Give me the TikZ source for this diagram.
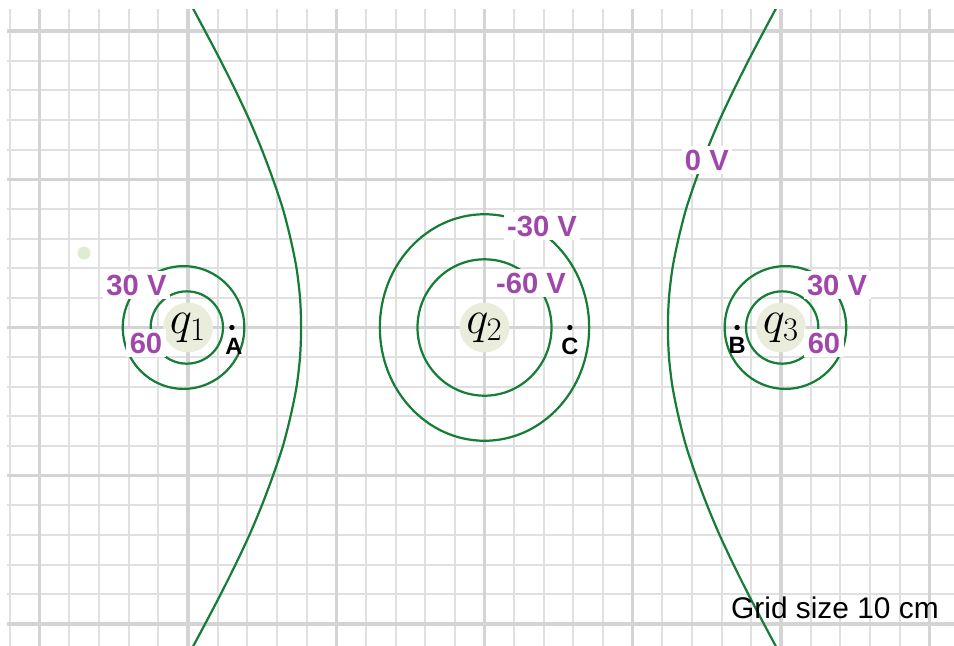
\documentclass[tikz,border=0pt]{standalone}
\usepackage{fix-cm}
\usepackage{fontspec}
\setmainfont{Liberation Sans}
\usepackage{tikz}
\pgfdeclarelayer{gridlayer}
\pgfdeclarelayer{edgelayer}
\pgfdeclarelayer{nodelayer}
\pgfsetlayers{gridlayer,edgelayer,nodelayer,main}
\definecolor{curvegreen}{RGB}{22,125,55}
\definecolor{labelpurple}{RGB}{160,72,170}
\definecolor{chargefill}{RGB}{234,236,220}
\definecolor{gridminor}{RGB}{224,224,224}
\definecolor{gridmajor}{RGB}{212,212,212}
\tikzstyle{gridline}=[draw=gridminor, line width=1.5pt]
\tikzstyle{gridbold}=[draw=gridmajor, line width=2.4pt]
\tikzstyle{contour}=[draw=curvegreen, line width=1.6pt]
\tikzstyle{charge}=[circle, fill=chargefill, minimum size=1.26cm, inner sep=0pt, font=\fontsize{27}{30}\selectfont]
\tikzstyle{vlabel}=[fill=white, text=labelpurple, inner sep=2.5pt, font=\bfseries\fontsize{21}{24}\selectfont]
\tikzstyle{point}=[circle, fill=black, inner sep=0pt, minimum size=3.8pt]
\tikzstyle{ptlabel}=[inner sep=0pt, font=\bfseries\fontsize{17}{20}\selectfont]
\newcommand{\qname}[1]{\scalebox{1.25}{$q_{#1}$}}

\begin{document}
\begin{tikzpicture}[x=0.75cm, y=0.75cm]
				\useasboundingbox (-6.341,-10.742) rectangle (25.835,11.046);
				\begin{pgfonlayer}{gridlayer}
					\foreach \k in {-6,...,25}
						\draw[gridline] (\k,-10.742) -- (\k,10.742);
					\foreach \k in {-10,...,10}
						\draw[gridline] (-6.105,\k) -- (25.835,\k);
					\foreach \k in {-5,0,...,25}
						\draw[gridbold] (\k,-10.742) -- (\k,10.742);
					\foreach \k in {-10,-5,...,10}
						\draw[gridbold] (-6.105,\k) -- (25.835,\k);
				\end{pgfonlayer}
				\begin{pgfonlayer}{edgelayer}
					\begin{scope}
						\clip (-6.105,-10.742) rectangle (25.835,10.742);
						% around q1
						\draw[contour] (-0.04,0) circle [radius=1.22];
						\draw[contour] (-0.15,0) ellipse [x radius=2.05, y radius=2.07];
						% around q2
						\draw[contour] (10,0) ellipse [x radius=2.26, y radius=2.30];
						\draw[contour] (10,0) ellipse [x radius=3.53, y radius=3.82];
						% around q3
						\draw[contour] (20.04,0) circle [radius=1.22];
						\draw[contour] (20.15,0) ellipse [x radius=2.05, y radius=2.07];
						% zero lines
						\draw[contour] plot[smooth] coordinates {(0.04,11) (0.575,10) (1.1,9) (1.6,8) (2.07,7) (2.49,6) (2.865,5) (3.2,4) (3.457,3) (3.66,2) (3.778,1) (3.815,0) (3.778,-1) (3.66,-2) (3.457,-3) (3.2,-4) (2.865,-5) (2.49,-6) (2.07,-7) (1.6,-8) (1.1,-9) (0.575,-10) (0.04,-11)};
						\draw[contour] plot[smooth] coordinates {(19.96,11) (19.425,10) (18.9,9) (18.4,8) (17.93,7) (17.51,6) (17.135,5) (16.8,4) (16.543,3) (16.34,2) (16.222,1) (16.185,0) (16.222,-1) (16.34,-2) (16.543,-3) (16.8,-4) (17.135,-5) (17.51,-6) (17.93,-7) (18.4,-8) (18.9,-9) (19.425,-10) (19.96,-11)};
					\end{scope}
				\end{pgfonlayer}
				\begin{pgfonlayer}{nodelayer}
					\node [style=charge] (q1) at (0,0) {\qname{1}};
					\node [style=charge] (q2) at (10,0) {\qname{2}};
					\node [style=charge] (q3) at (20,0) {\qname{3}};
					\node [circle, fill=chargefill!95!green, inner sep=0pt, minimum size=0.33cm] (dot) at (-3.508,2.513) {};
					\node [style=point] (A) at (1.48,0) {};
					\node [style=point] (C) at (12.88,0) {};
					\node [style=point] (B) at (18.52,0) {};
				\end{pgfonlayer}
				\node [style=ptlabel] (lA) at (1.55,-0.62) {A};
				\node [style=ptlabel] (lC) at (12.88,-0.63) {C};
				\node [style=ptlabel] (lB) at (18.52,-0.60) {B};
				\node [style=vlabel] (v30a) at (-1.737,1.433) {30 V};
				\node [style=vlabel] (v60a) at (-1.417,-0.523) {60};
				\node [style=vlabel] (vm30) at (11.94,3.423) {-30 V};
				\node [style=vlabel] (vm60) at (11.57,1.50) {-60 V};
				\node [style=vlabel] (v0) at (17.50,5.65) {0 V};
				\node [style=vlabel] (v30b) at (21.89,1.433) {30 V};
				\node [style=vlabel] (v60b) at (21.45,-0.523) {60};
				\node [inner sep=0pt, font=\fontsize{21.5}{24}\selectfont] (grid) at (21.82,-9.44) {Grid size 10 cm};
			\end{tikzpicture}
\end{document}
